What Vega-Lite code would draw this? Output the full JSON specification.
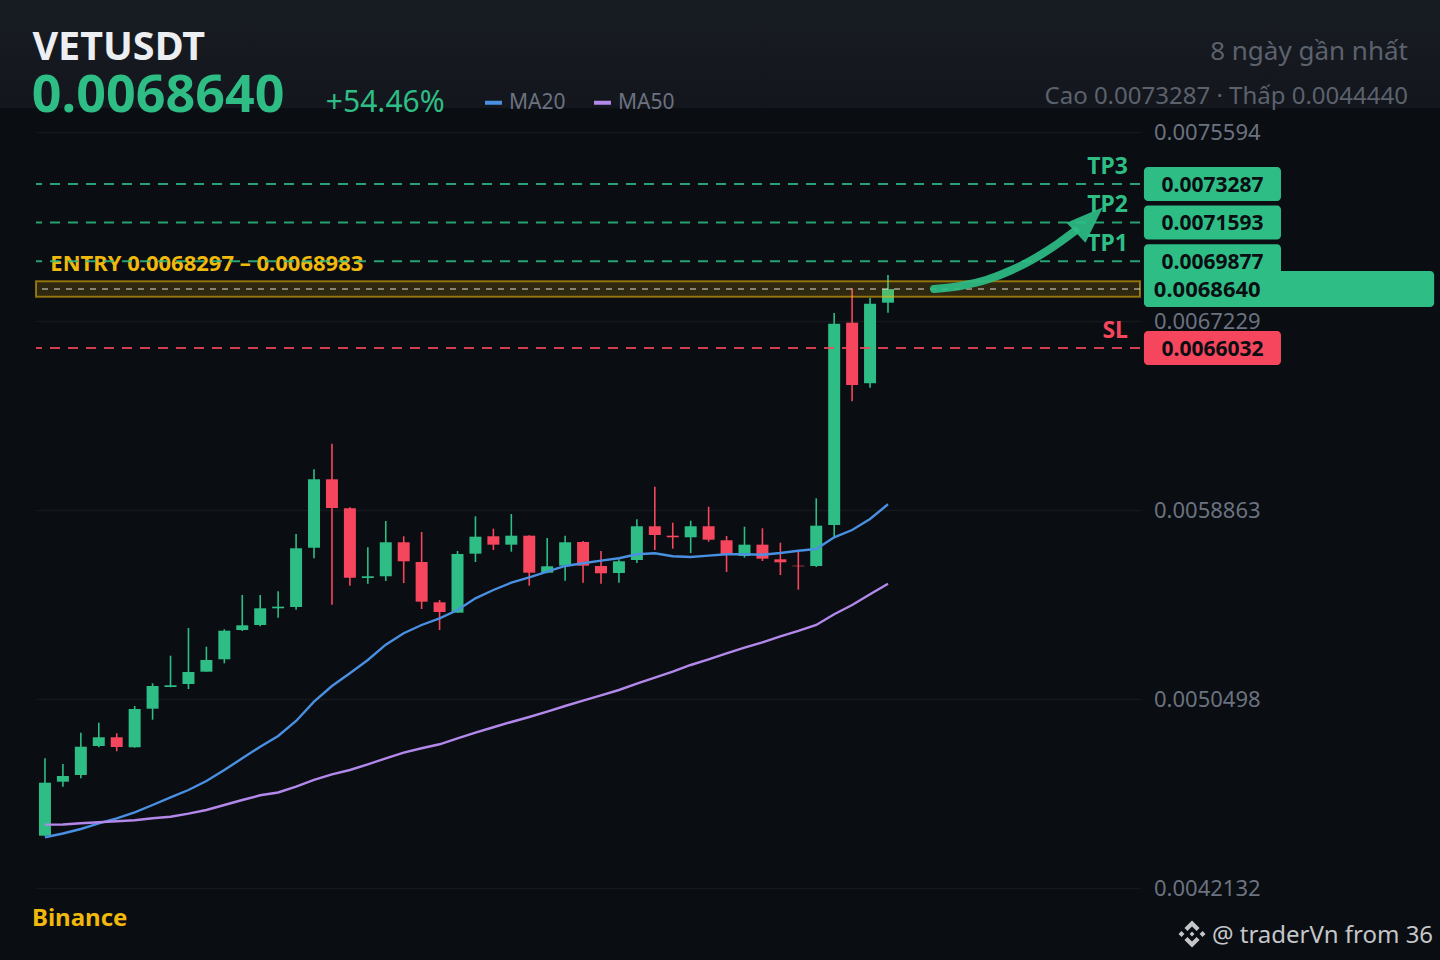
{
  "$schema": "https://vega.github.io/schema/vega-lite/v6.json",
  "width": 1104,
  "height": 852,
  "autosize": {"type": "none"},
  "padding": {"left": 36, "top": 108, "right": 300, "bottom": 0},
  "background": "#0a0d11",
  "view": {"stroke": null},
  "config": {"text": {"font": "Noto Sans"}},
  "datasets": {
    "candles": [
      {"i":0,"dir":"up","high":0.0047873,"open":0.0044447,"close":0.0046793,"low":0.0044440},
      {"i":1,"dir":"up","high":0.0047621,"open":0.0046837,"close":0.0047090,"low":0.0046616},
      {"i":2,"dir":"up","high":0.0049006,"open":0.0047134,"close":0.0048386,"low":0.0046988},
      {"i":3,"dir":"up","high":0.0049449,"open":0.0048418,"close":0.0048803,"low":0.0048360},
      {"i":4,"dir":"down","high":0.0048980,"open":0.0048803,"close":0.0048373,"low":0.0048183},
      {"i":5,"dir":"up","high":0.0050188,"open":0.0048360,"close":0.0050055,"low":0.0048342},
      {"i":6,"dir":"up","high":0.0051193,"open":0.0050068,"close":0.0051073,"low":0.0049582},
      {"i":7,"dir":"up","high":0.0052414,"open":0.0051029,"close":0.0051104,"low":0.0051016},
      {"i":8,"dir":"up","high":0.0053640,"open":0.0051162,"close":0.0051693,"low":0.0050940},
      {"i":9,"dir":"up","high":0.0052813,"open":0.0051706,"close":0.0052224,"low":0.0051706},
      {"i":10,"dir":"up","high":0.0053583,"open":0.0052255,"close":0.0053521,"low":0.0052078},
      {"i":11,"dir":"up","high":0.0055101,"open":0.0053552,"close":0.0053760,"low":0.0053508},
      {"i":12,"dir":"up","high":0.0055101,"open":0.0053773,"close":0.0054512,"low":0.0053716},
      {"i":13,"dir":"up","high":0.0055265,"open":0.0054512,"close":0.0054584,"low":0.0054096},
      {"i":14,"dir":"up","high":0.0057801,"open":0.0054570,"close":0.0057168,"low":0.0054450},
      {"i":15,"dir":"up","high":0.0060665,"open":0.0057195,"close":0.0060222,"low":0.0056726},
      {"i":16,"dir":"down","high":0.0061798,"open":0.0060222,"close":0.0058952,"low":0.0054672},
      {"i":17,"dir":"down","high":0.0058983,"open":0.0058939,"close":0.0055867,"low":0.0055513},
      {"i":18,"dir":"up","high":0.0057212,"open":0.0055854,"close":0.0055929,"low":0.0055601},
      {"i":19,"dir":"up","high":0.0058376,"open":0.0055929,"close":0.0057434,"low":0.0055721},
      {"i":20,"dir":"down","high":0.0057699,"open":0.0057434,"close":0.0056593,"low":0.0055632},
      {"i":21,"dir":"down","high":0.0057890,"open":0.0056562,"close":0.0054805,"low":0.0054481},
      {"i":22,"dir":"down","high":0.0054880,"open":0.0054778,"close":0.0054349,"low":0.0053552},
      {"i":23,"dir":"up","high":0.0057049,"open":0.0054318,"close":0.0056916,"low":0.0054318},
      {"i":24,"dir":"up","high":0.0058585,"open":0.0056929,"close":0.0057682,"low":0.0056562},
      {"i":25,"dir":"down","high":0.0058036,"open":0.0057699,"close":0.0057328,"low":0.0057093},
      {"i":26,"dir":"up","high":0.0058686,"open":0.0057328,"close":0.0057726,"low":0.0057018},
      {"i":27,"dir":"down","high":0.0057744,"open":0.0057726,"close":0.0056088,"low":0.0055513},
      {"i":28,"dir":"up","high":0.0057624,"open":0.0056088,"close":0.0056371,"low":0.0056062},
      {"i":29,"dir":"up","high":0.0057726,"open":0.0056398,"close":0.0057434,"low":0.0055734},
      {"i":30,"dir":"down","high":0.0057491,"open":0.0057447,"close":0.0056398,"low":0.0055645},
      {"i":31,"dir":"down","high":0.0057049,"open":0.0056385,"close":0.0056062,"low":0.0055601},
      {"i":32,"dir":"up","high":0.0056681,"open":0.0056075,"close":0.0056593,"low":0.0055645},
      {"i":33,"dir":"up","high":0.0058452,"open":0.0056650,"close":0.0058142,"low":0.0056517},
      {"i":34,"dir":"down","high":0.0059895,"open":0.0058142,"close":0.0057757,"low":0.0057093},
      {"i":35,"dir":"down","high":0.0058301,"open":0.0057726,"close":0.0057655,"low":0.0057150},
      {"i":36,"dir":"up","high":0.0058390,"open":0.0057655,"close":0.0058142,"low":0.0056960},
      {"i":37,"dir":"down","high":0.0059010,"open":0.0058142,"close":0.0057549,"low":0.0057460},
      {"i":38,"dir":"down","high":0.0057713,"open":0.0057522,"close":0.0056916,"low":0.0056119},
      {"i":39,"dir":"up","high":0.0058124,"open":0.0056827,"close":0.0057328,"low":0.0056752},
      {"i":40,"dir":"down","high":0.0058053,"open":0.0057328,"close":0.0056708,"low":0.0056606},
      {"i":41,"dir":"down","high":0.0057416,"open":0.0056681,"close":0.0056548,"low":0.0055986},
      {"i":42,"dir":"down","high":0.0057049,"open":0.0056398,"close":0.0056371,"low":0.0055336},
      {"i":43,"dir":"up","high":0.0059381,"open":0.0056385,"close":0.0058168,"low":0.0056340},
      {"i":44,"dir":"up","high":0.0067583,"open":0.0058199,"close":0.0067109,"low":0.0057637},
      {"i":45,"dir":"down","high":0.0068676,"open":0.0067154,"close":0.0064396,"low":0.0063675},
      {"i":46,"dir":"up","high":0.0068247,"open":0.0064471,"close":0.0067995,"low":0.0064277},
      {"i":47,"dir":"up","high":0.0069265,"open":0.0068039,"close":0.0068640,"low":0.0067596}
    ],
    "ma": [
      {"i":0,"series":"MA20","value":0.0044376},{"i":1,"series":"MA20","value":0.0044544},{"i":2,"series":"MA20","value":0.0044744},{"i":3,"series":"MA20","value":0.0044996},
      {"i":4,"series":"MA20","value":0.0045217},{"i":5,"series":"MA20","value":0.0045483},{"i":6,"series":"MA20","value":0.0045806},{"i":7,"series":"MA20","value":0.0046147},
      {"i":8,"series":"MA20","value":0.0046470},{"i":9,"series":"MA20","value":0.0046868},{"i":10,"series":"MA20","value":0.0047355},{"i":11,"series":"MA20","value":0.0047873},
      {"i":12,"series":"MA20","value":0.0048386},{"i":13,"series":"MA20","value":0.0048860},{"i":14,"series":"MA20","value":0.0049524},{"i":15,"series":"MA20","value":0.0050378},
      {"i":16,"series":"MA20","value":0.0051073},{"i":17,"series":"MA20","value":0.0051635},{"i":18,"series":"MA20","value":0.0052224},{"i":19,"series":"MA20","value":0.0052901},
      {"i":20,"series":"MA20","value":0.0053406},{"i":21,"series":"MA20","value":0.0053773},{"i":22,"series":"MA20","value":0.0054070},{"i":23,"series":"MA20","value":0.0054437},
      {"i":24,"series":"MA20","value":0.0054955},{"i":25,"series":"MA20","value":0.0055322},{"i":26,"series":"MA20","value":0.0055646},{"i":27,"series":"MA20","value":0.0055885},
      {"i":28,"series":"MA20","value":0.0056133},{"i":29,"series":"MA20","value":0.0056385},{"i":30,"series":"MA20","value":0.0056504},{"i":31,"series":"MA20","value":0.0056620},
      {"i":32,"series":"MA20","value":0.0056726},{"i":33,"series":"MA20","value":0.0056903},{"i":34,"series":"MA20","value":0.0056947},{"i":35,"series":"MA20","value":0.0056814},
      {"i":36,"series":"MA20","value":0.0056783},{"i":37,"series":"MA20","value":0.0056841},{"i":38,"series":"MA20","value":0.0056903},{"i":39,"series":"MA20","value":0.0056903},
      {"i":40,"series":"MA20","value":0.0056885},{"i":41,"series":"MA20","value":0.0056960},{"i":42,"series":"MA20","value":0.0057062},{"i":43,"series":"MA20","value":0.0057137},
      {"i":44,"series":"MA20","value":0.0057655},{"i":45,"series":"MA20","value":0.0057978},{"i":46,"series":"MA20","value":0.0058465},{"i":47,"series":"MA20","value":0.0059116},
      {"i":0,"series":"MA50","value":0.0044935},{"i":1,"series":"MA50","value":0.0044943},{"i":2,"series":"MA50","value":0.0044996},{"i":3,"series":"MA50","value":0.0045040},
      {"i":4,"series":"MA50","value":0.0045085},{"i":5,"series":"MA50","value":0.0045129},{"i":6,"series":"MA50","value":0.0045217},{"i":7,"series":"MA50","value":0.0045288},
      {"i":8,"series":"MA50","value":0.0045421},{"i":9,"series":"MA50","value":0.0045585},{"i":10,"series":"MA50","value":0.0045806},{"i":11,"series":"MA50","value":0.0046027},
      {"i":12,"series":"MA50","value":0.0046235},{"i":13,"series":"MA50","value":0.0046360},{"i":14,"series":"MA50","value":0.0046616},{"i":15,"series":"MA50","value":0.0046913},
      {"i":16,"series":"MA50","value":0.0047165},{"i":17,"series":"MA50","value":0.0047355},{"i":18,"series":"MA50","value":0.0047607},{"i":19,"series":"MA50","value":0.0047873},
      {"i":20,"series":"MA50","value":0.0048121},{"i":21,"series":"MA50","value":0.0048316},{"i":22,"series":"MA50","value":0.0048493},{"i":23,"series":"MA50","value":0.0048758},
      {"i":24,"series":"MA50","value":0.0049006},{"i":25,"series":"MA50","value":0.0049246},{"i":26,"series":"MA50","value":0.0049480},{"i":27,"series":"MA50","value":0.0049701},
      {"i":28,"series":"MA50","value":0.0049936},{"i":29,"series":"MA50","value":0.0050188},{"i":30,"series":"MA50","value":0.0050423},{"i":31,"series":"MA50","value":0.0050662},
      {"i":32,"series":"MA50","value":0.0050896},{"i":33,"series":"MA50","value":0.0051175},{"i":34,"series":"MA50","value":0.0051441},{"i":35,"series":"MA50","value":0.0051706},
      {"i":36,"series":"MA50","value":0.0052003},{"i":37,"series":"MA50","value":0.0052255},{"i":38,"series":"MA50","value":0.0052521},{"i":39,"series":"MA50","value":0.0052769},
      {"i":40,"series":"MA50","value":0.0053007},{"i":41,"series":"MA50","value":0.0053273},{"i":42,"series":"MA50","value":0.0053508},{"i":43,"series":"MA50","value":0.0053773},
      {"i":44,"series":"MA50","value":0.0054247},{"i":45,"series":"MA50","value":0.0054658},{"i":46,"series":"MA50","value":0.0055132},{"i":47,"series":"MA50","value":0.0055601}
    ],
    "levels": [
      {"name":"TP3","price":0.0073287,"label":"0.0073287"},
      {"name":"TP2","price":0.0071593,"label":"0.0071593"},
      {"name":"TP1","price":0.0069877,"label":"0.0069877"},
      {"name":"SL","price":0.0066032,"label":"0.0066032"}
    ],
    "arrow": [
      {"i":49.57,"price":0.0068645},
      {"i":51.02,"price":0.0068778},
      {"i":52.46,"price":0.0069044},
      {"i":53.91,"price":0.0069486},
      {"i":55.31,"price":0.0070062},
      {"i":56.48,"price":0.0070659},
      {"i":57.43,"price":0.0071212}
    ]
  },
  "layer": [
    {
      "data": {"values": [{"i":-2.51,"i2":77.78,"top":0.0081437,"bottom":0.0076656}]},
      "mark": {"type": "rect", "fill": {"gradient": "linear", "x1": 0, "y1": 0, "x2": 0, "y2": 1, "stops": [{"offset": 0, "color": "#181c23"}, {"offset": 1, "color": "#13161c"}]}},
      "encoding": {
        "x": {"field": "i", "type": "quantitative", "axis": null, "scale": {"domain": [-0.5, 61.05], "nice": false, "zero": false, "padding": 0}},
        "x2": {"field": "i2"},
        "y": {
          "field": "top",
          "type": "quantitative",
          "scale": {"domain": [0.0038945, 0.0076656], "nice": false, "zero": false},
          "axis": {
            "orient": "right",
            "title": null,
            "values": [0.0075594, 0.0067229, 0.0058863, 0.0050498, 0.0042132],
            "format": ".7f",
            "domain": false,
            "ticks": false,
            "labelPadding": 13.5,
            "labelOffset": 1,
            "labelFont": "Noto Sans",
            "labelFontSize": 22,
            "labelColor": "#6b7280",
            "labelOverlap": false,
            "grid": true,
            "gridColor": "#15181c",
            "gridWidth": 1.6
          }
        },
        "y2": {"field": "bottom"}
      }
    },
    {
      "data": {"name": "candles"},
      "mark": {"type": "rule", "strokeWidth": 1.6},
      "encoding": {
        "x": {"field": "i", "type": "quantitative", "axis": null, "scale": {"domain": [-0.5, 61.05], "nice": false, "zero": false, "padding": 0}},
        "y": {"field": "low", "type": "quantitative", "axis": null, "scale": {"domain": [0.0038945, 0.0076656], "nice": false, "zero": false}},
        "y2": {"field": "high"},
        "color": {"field": "dir", "type": "nominal", "legend": null, "scale": {"domain": ["up", "down"], "range": ["#2ebd85", "#f6465d"]}}
      }
    },
    {
      "data": {"name": "candles"},
      "mark": {"type": "bar", "size": 12, "orient": "vertical"},
      "encoding": {
        "x": {"field": "i", "type": "quantitative", "axis": null, "scale": {"domain": [-0.5, 61.05], "nice": false, "zero": false, "padding": 0}},
        "y": {"field": "open", "type": "quantitative", "axis": null, "scale": {"domain": [0.0038945, 0.0076656], "nice": false, "zero": false}},
        "y2": {"field": "close"},
        "color": {"field": "dir", "type": "nominal", "legend": null, "scale": {"domain": ["up", "down"], "range": ["#2ebd85", "#f6465d"]}}
      }
    },
    {
      "data": {"name": "ma"},
      "mark": {"type": "line", "strokeWidth": 2.4, "interpolate": "linear"},
      "encoding": {
        "x": {"field": "i", "type": "quantitative", "axis": null, "scale": {"domain": [-0.5, 61.05], "nice": false, "zero": false, "padding": 0}},
        "y": {"field": "value", "type": "quantitative", "axis": null, "scale": {"domain": [0.0038945, 0.0076656], "nice": false, "zero": false}},
        "color": {
          "field": "series",
          "type": "nominal",
          "scale": {"domain": ["MA20", "MA50"], "range": ["#4a90e2", "#b388eb"]},
          "legend": {
            "orient": "none",
            "legendX": 447,
            "legendY": -16,
            "direction": "horizontal",
            "title": null,
            "symbolType": "stroke",
            "symbolSize": 289,
            "symbolStrokeWidth": 4,
            "labelFont": "Noto Sans",
            "labelFontSize": 21,
            "labelColor": "#6b7280",
            "labelOffset": 5,
            "columnPadding": 20
          }
        }
      }
    },
    {
      "data": {"values": [{"low":0.0068297,"high":0.0068983}]},
      "mark": {"type": "rect", "fill": "#f0b90b", "fillOpacity": 0.16, "stroke": "#f0b90b", "strokeOpacity": 0.55, "strokeWidth": 2},
      "encoding": {
        "y": {"field": "low", "type": "quantitative", "axis": null, "scale": {"domain": [0.0038945, 0.0076656], "nice": false, "zero": false}},
        "y2": {"field": "high"}
      }
    },
    {
      "data": {"values": [{"label":"ENTRY 0.0068297 – 0.0068983","i":0.3,"price":0.0069752}]},
      "mark": {"type": "text", "align": "left", "fontSize": 22, "fontWeight": "bold", "color": "#f0b90b"},
      "encoding": {
        "x": {"field": "i", "type": "quantitative", "axis": null, "scale": {"domain": [-0.5, 61.05], "nice": false, "zero": false, "padding": 0}},
        "y": {"field": "price", "type": "quantitative", "axis": null, "scale": {"domain": [0.0038945, 0.0076656], "nice": false, "zero": false}},
        "text": {"field": "label"}
      }
    },
    {
      "data": {"values": [{"price":0.0068640}]},
      "mark": {"type": "rule", "stroke": "#ffffff", "strokeOpacity": 0.42, "strokeWidth": 2, "strokeDash": [6, 6]},
      "encoding": {"y": {"field": "price", "type": "quantitative", "axis": null, "scale": {"domain": [0.0038945, 0.0076656], "nice": false, "zero": false}}}
    },
    {
      "data": {"name": "levels"},
      "mark": {"type": "rule", "strokeWidth": 2, "strokeOpacity": 0.85, "strokeDash": [10, 8]},
      "encoding": {
        "y": {"field": "price", "type": "quantitative", "axis": null, "scale": {"domain": [0.0038945, 0.0076656], "nice": false, "zero": false}},
        "color": {"condition": {"test": "datum.name === 'SL'", "value": "#f6465d"}, "value": "#2ebd85"}
      }
    },
    {
      "data": {"name": "levels"},
      "mark": {"type": "text", "align": "right", "baseline": "alphabetic", "dy": -10, "fontSize": 23, "fontWeight": "bold"},
      "encoding": {
        "x": {"datum": 60.38, "type": "quantitative", "axis": null, "scale": {"domain": [-0.5, 61.05], "nice": false, "zero": false, "padding": 0}},
        "y": {"field": "price", "type": "quantitative", "axis": null, "scale": {"domain": [0.0038945, 0.0076656], "nice": false, "zero": false}},
        "text": {"field": "name"},
        "color": {"condition": {"test": "datum.name === 'SL'", "value": "#f6465d"}, "value": "#2ebd85"}
      }
    },
    {
      "data": {"name": "arrow"},
      "mark": {"type": "line", "stroke": "#2ebd85", "strokeWidth": 8, "strokeCap": "round", "strokeJoin": "round", "interpolate": "monotone", "opacity": 0.92},
      "encoding": {
        "x": {"field": "i", "type": "quantitative", "axis": null, "scale": {"domain": [-0.5, 61.05], "nice": false, "zero": false, "padding": 0}},
        "y": {"field": "price", "type": "quantitative", "axis": null, "scale": {"domain": [0.0038945, 0.0076656], "nice": false, "zero": false}}
      }
    },
    {
      "data": {"values": [{"i":58.23,"price":0.0071699}]},
      "mark": {"type": "point", "shape": "M0,-0.5L0.374,0.5L-0.374,0.5Z", "size": 5476, "angle": 46.6, "filled": true, "fill": "#2ebd85", "opacity": 0.92},
      "encoding": {
        "x": {"field": "i", "type": "quantitative", "axis": null, "scale": {"domain": [-0.5, 61.05], "nice": false, "zero": false, "padding": 0}},
        "y": {"field": "price", "type": "quantitative", "axis": null, "scale": {"domain": [0.0038945, 0.0076656], "nice": false, "zero": false}}
      }
    },
    {
      "data": {"name": "levels"},
      "mark": {"type": "rect", "height": 34, "cornerRadius": 4},
      "encoding": {
        "x": {"datum": 61.27, "type": "quantitative", "axis": null, "scale": {"domain": [-0.5, 61.05], "nice": false, "zero": false, "padding": 0}},
        "x2": {"datum": 68.91},
        "y": {"field": "price", "type": "quantitative", "axis": null, "scale": {"domain": [0.0038945, 0.0076656], "nice": false, "zero": false}},
        "color": {"condition": {"test": "datum.name === 'SL'", "value": "#f6465d"}, "value": "#2ebd85"}
      }
    },
    {
      "data": {"name": "levels"},
      "mark": {"type": "text", "fontSize": 21, "fontWeight": "bold", "color": "#0a0d11", "dy": 1.5},
      "encoding": {
        "x": {"datum": 65.09, "type": "quantitative", "axis": null, "scale": {"domain": [-0.5, 61.05], "nice": false, "zero": false, "padding": 0}},
        "y": {"field": "price", "type": "quantitative", "axis": null, "scale": {"domain": [0.0038945, 0.0076656], "nice": false, "zero": false}},
        "text": {"field": "label"}
      }
    },
    {
      "data": {"values": [{"price":0.0068640,"label":"0.0068640"}]},
      "mark": {"type": "rect", "height": 36, "cornerRadius": 4, "fill": "#2ebd85"},
      "encoding": {
        "x": {"datum": 61.27, "type": "quantitative", "axis": null, "scale": {"domain": [-0.5, 61.05], "nice": false, "zero": false, "padding": 0}},
        "x2": {"datum": 77.45},
        "y": {"field": "price", "type": "quantitative", "axis": null, "scale": {"domain": [0.0038945, 0.0076656], "nice": false, "zero": false}}
      }
    },
    {
      "data": {"values": [{"price":0.0068640,"label":"0.0068640"}]},
      "mark": {"type": "text", "align": "left", "fontSize": 22, "fontWeight": "bold", "color": "#0a0d11", "dy": 1},
      "encoding": {
        "x": {"datum": 61.82, "type": "quantitative", "axis": null, "scale": {"domain": [-0.5, 61.05], "nice": false, "zero": false, "padding": 0}},
        "y": {"field": "price", "type": "quantitative", "axis": null, "scale": {"domain": [0.0038945, 0.0076656], "nice": false, "zero": false}},
        "text": {"field": "label"}
      }
    },
    {
      "data": {"values": [{"label":"VETUSDT","i":-0.7,"price":0.0078781}]},
      "mark": {"type": "text", "align": "left", "baseline": "alphabetic", "fontSize": 39.5, "fontWeight": "bold", "color": "#eceef2"},
      "encoding": {
        "x": {"field": "i", "type": "quantitative", "axis": null, "scale": {"domain": [-0.5, 61.05], "nice": false, "zero": false, "padding": 0}},
        "y": {"field": "price", "type": "quantitative", "axis": null, "scale": {"domain": [0.0038945, 0.0076656], "nice": false, "zero": false}},
        "text": {"field": "label"}
      }
    },
    {
      "data": {"values": [{"label":"0.0068640","i":-0.73,"price":0.0076480}]},
      "mark": {"type": "text", "align": "left", "baseline": "alphabetic", "fontSize": 52, "fontWeight": "bold", "color": "#2ebd85"},
      "encoding": {
        "x": {"field": "i", "type": "quantitative", "axis": null, "scale": {"domain": [-0.5, 61.05], "nice": false, "zero": false, "padding": 0}},
        "y": {"field": "price", "type": "quantitative", "axis": null, "scale": {"domain": [0.0038945, 0.0076656], "nice": false, "zero": false}},
        "text": {"field": "label"}
      }
    },
    {
      "data": {"values": [{"label":"+54.46%","i":15.66,"price":0.0076480}]},
      "mark": {"type": "text", "align": "left", "baseline": "alphabetic", "fontSize": 30, "color": "#2ebd85"},
      "encoding": {
        "x": {"field": "i", "type": "quantitative", "axis": null, "scale": {"domain": [-0.5, 61.05], "nice": false, "zero": false, "padding": 0}},
        "y": {"field": "price", "type": "quantitative", "axis": null, "scale": {"domain": [0.0038945, 0.0076656], "nice": false, "zero": false}},
        "text": {"field": "label"}
      }
    },
    {
      "data": {"values": [{"label":"8 ngày gần nhất","i":75.99,"price":0.0078781}]},
      "mark": {"type": "text", "align": "right", "baseline": "alphabetic", "fontSize": 26, "color": "#5c626d"},
      "encoding": {
        "x": {"field": "i", "type": "quantitative", "axis": null, "scale": {"domain": [-0.5, 61.05], "nice": false, "zero": false, "padding": 0}},
        "y": {"field": "price", "type": "quantitative", "axis": null, "scale": {"domain": [0.0038945, 0.0076656], "nice": false, "zero": false}},
        "text": {"field": "label"}
      }
    },
    {
      "data": {"values": [{"label":"Cao 0.0073287 · Thấp 0.0044440","i":75.99,"price":0.0076834}]},
      "mark": {"type": "text", "align": "right", "baseline": "alphabetic", "fontSize": 24, "color": "#5c626d"},
      "encoding": {
        "x": {"field": "i", "type": "quantitative", "axis": null, "scale": {"domain": [-0.5, 61.05], "nice": false, "zero": false, "padding": 0}},
        "y": {"field": "price", "type": "quantitative", "axis": null, "scale": {"domain": [0.0038945, 0.0076656], "nice": false, "zero": false}},
        "text": {"field": "label"}
      }
    },
    {
      "data": {"values": [{"label":"Binance","i":-0.725,"price":0.0040450}]},
      "mark": {"type": "text", "align": "left", "baseline": "alphabetic", "fontSize": 24, "fontWeight": "bold", "color": "#f0b90b"},
      "encoding": {
        "x": {"field": "i", "type": "quantitative", "axis": null, "scale": {"domain": [-0.5, 61.05], "nice": false, "zero": false, "padding": 0}},
        "y": {"field": "price", "type": "quantitative", "axis": null, "scale": {"domain": [0.0038945, 0.0076656], "nice": false, "zero": false}},
        "text": {"field": "label"}
      }
    },
    {
      "data": {"values": [{"label":"@ traderVn from 36","i":65.06,"price":0.0039698}]},
      "mark": {"type": "text", "align": "left", "baseline": "alphabetic", "fontSize": 24, "color": "#c4c6c9"},
      "encoding": {
        "x": {"field": "i", "type": "quantitative", "axis": null, "scale": {"domain": [-0.5, 61.05], "nice": false, "zero": false, "padding": 0}},
        "y": {"field": "price", "type": "quantitative", "axis": null, "scale": {"domain": [0.0038945, 0.0076656], "nice": false, "zero": false}},
        "text": {"field": "label"}
      }
    },
    {
      "data": {"values": [{"i":63.95,"price":0.0040096}]},
      "mark": {
        "type": "point",
        "filled": true,
        "fill": "#c4c6c9",
        "opacity": 1,
        "size": 2916,
        "shape": "M0,-0.09L0.09,0L0,0.09L-0.09,0ZM-0.5,0L-0.39,-0.11L-0.28,0L-0.39,0.11ZM0.5,0L0.39,-0.11L0.28,0L0.39,0.11ZM0,-0.5L0.28,-0.22L0.17,-0.11L0,-0.28L-0.17,-0.11L-0.28,-0.22ZM0,0.5L0.28,0.22L0.17,0.11L0,0.28L-0.17,0.11L-0.28,0.22Z"
      },
      "encoding": {
        "x": {"field": "i", "type": "quantitative", "axis": null, "scale": {"domain": [-0.5, 61.05], "nice": false, "zero": false, "padding": 0}},
        "y": {"field": "price", "type": "quantitative", "axis": null, "scale": {"domain": [0.0038945, 0.0076656], "nice": false, "zero": false}}
      }
    }
  ],
  "resolve": {"scale": {"color": "independent"}, "axis": {"y": "independent"}}
}
